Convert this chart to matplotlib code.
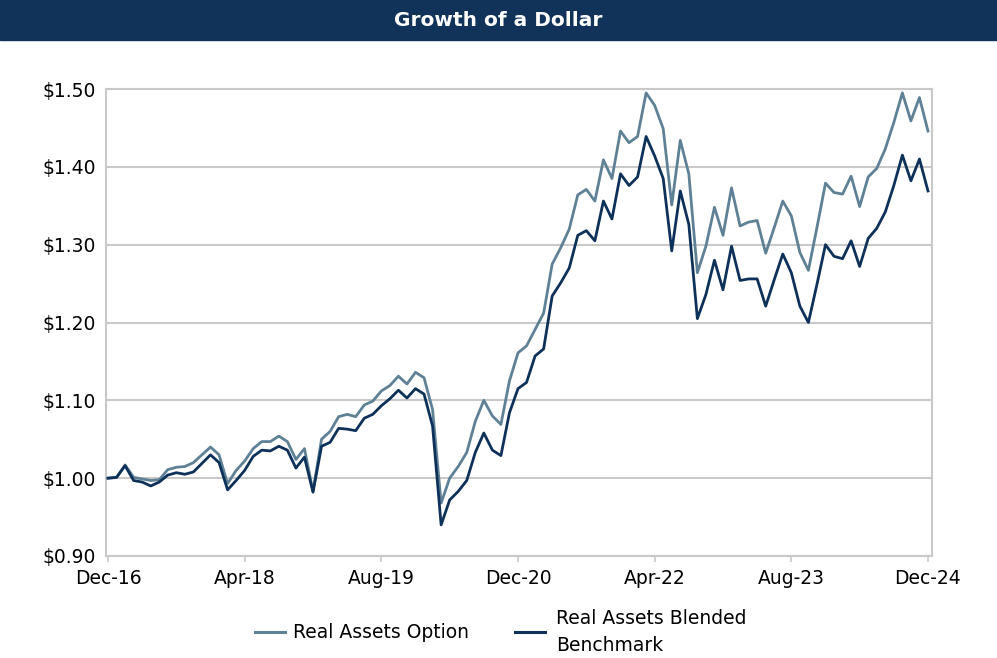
import matplotlib
matplotlib.use("Agg")
import matplotlib.pyplot as plt
from matplotlib.lines import Line2D
from matplotlib.patches import Rectangle
import numpy as np

title = "Growth of a Dollar"
series_names = ["Real Assets Option", "Real Assets Blended\nBenchmark"]
tick_labels = ["Dec-16", "Apr-18", "Aug-19", "Dec-20", "Apr-22", "Aug-23", "Dec-24"]
tick_positions = [0, 16, 32, 48, 64, 80, 96]
y_ticks = [0.90, 1.00, 1.10, 1.20, 1.30, 1.40, 1.50]

option = [1.000, 1.001, 1.017, 1.001, 0.999, 0.997, 0.998, 1.011, 1.014, 1.015,
          1.020, 1.030, 1.040, 1.030, 0.993, 1.010, 1.022, 1.038, 1.047, 1.047,
          1.054, 1.047, 1.024, 1.038, 0.983, 1.050, 1.060, 1.079, 1.082, 1.079,
          1.094, 1.099, 1.112, 1.119, 1.131, 1.121, 1.136, 1.129, 1.088, 0.968,
          1.000, 1.015, 1.033, 1.073, 1.100, 1.080, 1.069, 1.125, 1.161, 1.170,
          1.191, 1.212, 1.275, 1.296, 1.320, 1.364, 1.371, 1.356, 1.409, 1.385,
          1.446, 1.431, 1.439, 1.495, 1.479, 1.449, 1.351, 1.434, 1.391, 1.264,
          1.298, 1.348, 1.312, 1.373, 1.324, 1.329, 1.331, 1.289, 1.322, 1.356,
          1.337, 1.290, 1.267, 1.322, 1.379, 1.367, 1.365, 1.388, 1.349, 1.387,
          1.398, 1.423, 1.457, 1.495, 1.459, 1.489, 1.446]

benchmark = [1.000, 1.001, 1.016, 0.997, 0.995, 0.990, 0.995, 1.004, 1.007, 1.005,
             1.008, 1.019, 1.030, 1.020, 0.985, 0.997, 1.010, 1.028, 1.036, 1.035,
             1.041, 1.036, 1.013, 1.027, 0.982, 1.041, 1.046, 1.064, 1.063, 1.061,
             1.077, 1.082, 1.093, 1.102, 1.113, 1.103, 1.115, 1.108, 1.067, 0.940,
             0.972, 0.983, 0.997, 1.033, 1.058, 1.036, 1.029, 1.084, 1.115, 1.123,
             1.157, 1.166, 1.234, 1.251, 1.270, 1.312, 1.318, 1.305, 1.356, 1.333,
             1.391, 1.376, 1.387, 1.439, 1.414, 1.385, 1.292, 1.369, 1.326, 1.205,
             1.236, 1.280, 1.242, 1.298, 1.254, 1.256, 1.256, 1.221, 1.255, 1.288,
             1.264, 1.221, 1.200, 1.249, 1.300, 1.285, 1.282, 1.305, 1.272, 1.308,
             1.321, 1.342, 1.376, 1.415, 1.382, 1.410, 1.369]

c_option = "#5E8196"
c_bench = "#0E3159"
c_bar = "#11335A"
c_grid = "#C9C9C9"
fs = 13.5

plt.rcParams['font.family'] = ['DejaVu Sans']

fig = plt.figure(figsize=(9.97, 6.58), dpi=100)
fig.patches.append(Rectangle((0, 1 - 40 / 658), 1, 40 / 658, transform=fig.transFigure,
                             color=c_bar, zorder=0))
fig.text(0.5, 1 - 20 / 658, title, color="white", fontsize=14.5, fontweight="bold",
         ha="center", va="center")

ax = fig.add_axes([105.7 / 997, 1 - 556 / 658, (932 - 105.7) / 997, (556 - 89) / 658])
x = np.arange(len(option))
ax.plot(x, option, color=c_option, lw=2.0, zorder=3)
ax.plot(x, benchmark, color=c_bench, lw=2.0, zorder=4)

ax.set_xlim(-0.27, 96.47)
ax.set_ylim(0.90, 1.50)
ax.set_yticks(y_ticks)
ax.set_yticklabels([f"${v:.2f}" for v in y_ticks])
ax.set_xticks(tick_positions)
ax.set_xticklabels(tick_labels)
ax.yaxis.grid(True, color=c_grid, lw=1.5)
ax.set_axisbelow(True)
for s in ax.spines.values():
    s.set_color(c_grid)
    s.set_linewidth(1.5)
ax.tick_params(axis="y", length=0, pad=7, labelsize=fs, colors="#000000")
ax.tick_params(axis="x", length=4, width=1.2, pad=5, labelsize=fs,
               colors=c_grid, labelcolor="black")

# legend
ly = 1 - 632 / 658
fig.lines.append(Line2D([255 / 997, 285 / 997], [ly, ly], transform=fig.transFigure,
                        color=c_option, lw=2.2))
fig.text(293 / 997, ly, series_names[0], fontsize=fs, va="center", ha="left")
fig.lines.append(Line2D([515 / 997, 545 / 997], [ly, ly], transform=fig.transFigure,
                        color=c_bench, lw=2.2))
fig.text(556 / 997, ly, series_names[1], fontsize=fs, va="center", ha="left",
         linespacing=1.5)

fig.savefig("out.png", dpi=100)
